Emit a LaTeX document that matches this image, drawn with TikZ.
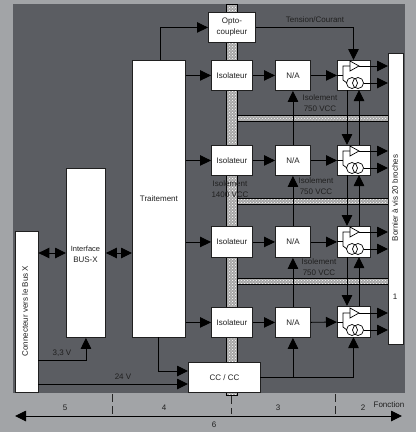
\documentclass[tikz,border=0pt]{standalone}
\usepackage{fontspec}
\setmainfont{Liberation Sans}
\usetikzlibrary{arrows.meta,patterns,calc}
\definecolor{panel}{HTML}{5B5D62}
\definecolor{outer}{HTML}{A2A4A7}
\definecolor{ink}{HTML}{202020}
\tikzset{
  blockbox/.style={draw=ink,line width=0.9pt,fill=white,inner sep=0pt,text=ink,font=\fontsize{8}{11}\selectfont,align=center},
  lab/.style={inner sep=0pt,text=ink,font=\fontsize{8}{11}\selectfont,align=center},
  vert/.style={rotate=90},
  wire/.style={draw=black,line width=0.9pt},
  arr/.style={wire,-{Triangle[length=11pt,width=10.5pt]}},
  darr/.style={wire,{Triangle[length=11pt,width=10.5pt]}-{Triangle[length=11pt,width=10.5pt]}},
  iso/.style={draw=black,line width=0.6pt,pattern=crosshatch dots,pattern color=white},
  thinwire/.style={draw=black,line width=0.7pt},
  tickline/.style={draw=black!85,line width=0.9pt,dash pattern=on 8pt off 4pt}
}
\newcommand{\blk}[6]{\node[blockbox,minimum width=#4pt-#2pt,minimum height=#5pt-#3pt,anchor=north west] (#1) at (#2,#3) {#6};}
\begin{document}
\begin{tikzpicture}[x=1pt,y=-1pt]
\useasboundingbox (0,0) rectangle (416,432);
\fill[outer] (0,0) rectangle (416,432);
\fill[panel] (13,4) rectangle (405,393);
% isolation barriers
\foreach \a/\b/\c/\d in {226/4/237/395,237/115/388/121,237/198/388/204,237/278/388/284}{
  \fill[black!35] (\a,\b) rectangle (\c,\d);
  \path[iso] (\a,\b) rectangle (\c,\d);
}
% blocks
\blk{opto}{208}{12}{255}{42}{Opto-\\coupleur}
\blk{isoa}{211}{60}{252}{90}{Isolateur}
\blk{isob}{211}{145}{252}{175}{Isolateur}
\blk{isoc}{211}{226}{252}{257}{Isolateur}
\blk{isod}{211}{307}{252}{337}{Isolateur}
\blk{naa}{275}{60}{310}{90}{N/A}
\blk{nab}{275}{145}{310}{175}{N/A}
\blk{nac}{275}{226}{310}{257}{N/A}
\blk{nad}{275}{307}{310}{337}{N/A}
\blk{ampa}{337}{60}{370}{90}{}
\blk{ampb}{337}{145}{370}{175}{}
\blk{ampc}{337}{226}{370}{257}{}
\blk{ampd}{337}{306}{370}{337}{}
\blk{born}{388}{53}{403}{344}{}
\blk{cc}{188}{362}{260}{392}{CC / CC}
\blk{trt}{132}{60}{185}{337}{Traitement}
\blk{bus}{66}{168}{105}{337}{}
\blk{conn}{14.5}{231}{37.5}{392}{}
\node[lab] (bustxt) at (85.5,254) {\fontsize{7.5}{11.5}\selectfont Interface\\BUS-X};
\node[lab,vert] (conntxt) at (25,311) {Connecteur vers le Bus X};
\node[lab,vert] (borntxt) at (395,198) {Bornier à vis 20 broches};
\node[lab] (one) at (395,297) {1};
% amplifier internals and outputs
\foreach \n/\y in {a/75,b/160,c/241,d/322}{
  \draw[thinwire] (337,\y) -- (343,\y);
  \draw[thinwire] (350,\y-9) -- (343,\y-9) -- (343,\y+5) -- (347,\y+8);
  \draw[thinwire,fill=white] (350,\y-14) -- (359,\y-9) -- (350,\y-4) -- cycle;
  \draw[thinwire] (352,\y+8) circle (5.5);
  \draw[thinwire] (358,\y+8) circle (5.5);
  \draw[arr] (359,\y-9) -- (born.west |- 0,\y-9);
  \draw[arr] (363.5,\y+8) -- (born.west |- 0,\y+8);
}
% processing to isolators
\draw[arr] (trt.east |- isoa.west) -- (isoa.west);
\draw[arr] (trt.east |- isob.west) -- (isob.west);
\draw[arr] (trt.east |- isoc.west) -- (isoc.west);
\draw[arr] (trt.east |- isod.west) -- (isod.west);
\draw[arr] (isoa) -- (naa);
\draw[arr] (isob) -- (nab);
\draw[arr] (isoc) -- (nac);
\draw[arr] (isod) -- (nad);
\draw[arr] (naa) -- (ampa);
\draw[arr] (nab) -- (ampb);
\draw[arr] (nac) -- (ampc);
\draw[arr] (nad) -- (ampd);
% opto
\coordinate (trtup) at (160,60);
\draw[arr] (trtup) |- (opto.west);
\coordinate (ampatop) at (353.5,60);
\draw[arr] (opto.east) -| (ampatop);
% power up the N/A chain
\draw[arr] (nab.north) -- (naa.south);
\draw[arr] (nac.north) -- (nab.south);
\draw[arr] (nad.north) -- (nac.south);
\coordinate (ccout) at (260,377);
\draw[arr] (ccout) -| (nad.south);
\coordinate (ampdbot) at (353.5,337);
\draw[arr] (ccout) -| (ampdbot);
% amplifier chain
\foreach \p/\q/\yp/\yq in {ampa/ampb/90/145,ampb/ampc/175/226,ampc/ampd/257/306}{
  \draw[arr] (347,\yp) -- (347,\yq);
  \draw[arr] (359,\yq) -- (359,\yp);
}
% left side
\draw[darr] (conn.east |- 0,253) -- (bus.west |- 0,253);
\draw[darr] (bus.east |- 0,253) -- (trt.west |- 0,253);
\coordinate (trtdown) at (158,337);
\draw[arr] (trtdown) |- (cc.west |- 0,371);
\draw[arr] (conn.east |- 0,384) -- (cc.west |- 0,384);
\draw[arr] (conn.east |- 0,360) -| (bus.south);
% labels
\node[lab] (t33) at (62,353) {3,3 V};
\node[lab] (t24) at (123,377) {24 V};
\node[lab] (tc) at (315,20) {Tension/Courant};
\node[lab] (isa) at (320,103.5) {Isolement\\750 VCC};
\node[lab] (isb) at (316,186.5) {Isolement\\750 VCC};
\node[lab] (isc) at (319,267.5) {Isolement\\750 VCC};
\node[lab] (isd) at (230,189.5) {Isolement\\1400 VCC};
% function scale
\draw[tickline] (112,394) -- (112,414);
\draw[tickline] (231,396) -- (231,414);
\draw[tickline] (335,394) -- (335,414);
\coordinate (scl) at (15,416);
\coordinate (scr) at (402,416);
\draw[darr] (scl) -- (scr);
\node[lab] (n5) at (65,408) {5};
\node[lab] (n4) at (164,408) {4};
\node[lab] (n3) at (278,408) {3};
\node[lab] (n2) at (363,408) {2};
\node[lab] (fn) at (389,405) {Fonction};
\node[lab] (n6) at (214,425) {6};
\end{tikzpicture}
\end{document}
